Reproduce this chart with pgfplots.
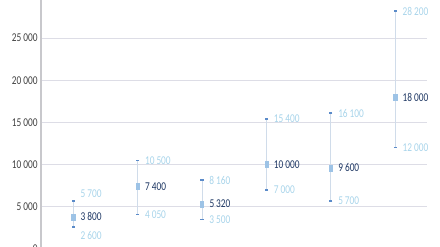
\documentclass[border=0pt]{standalone}
\usepackage{pgfplots}
\pgfplotsset{compat=1.18}
\usepackage{pgfplotstable}
\usepackage{fontspec}
\setmainfont{Carlito}[FakeStretch=0.78]
\definecolor{gridc}{HTML}{DDDDE6}
\definecolor{axisc}{HTML}{C8C8CC}
\definecolor{tickc}{HTML}{404040}
\definecolor{barc}{HTML}{D0DCEA}
\definecolor{capc}{HTML}{5B8BC9}
\definecolor{markc}{HTML}{9DC3E6}
\definecolor{meanc}{HTML}{1F3864}
\definecolor{hlc}{HTML}{A8D4EA}

\pgfplotstableread{
x mean hi lo hidy lody
0 3800 5700 2600 7 -8
1 7400 10500 4050 0 0
2 5320 8160 3500 0 0
3 10000 15400 7000 0 0
4 9600 16100 5700 0 0
5 18000 28200 12000 0 0
}\datatab

\begin{document}
\begin{tikzpicture}
\begin{axis}[
  at={(41bp,-2bp)}, anchor=south west,
  scale only axis, width=386.4bp, height=253.2bp,
  xmin=-0.5, xmax=5.5, ymin=0, ymax=30000,
  axis x line=none, axis y line*=left,
  y axis line style={draw=axisc, line width=1.6bp},
  ytick={0,5000,...,25000}, scaled y ticks=false,
  extra y ticks={30000}, extra y tick labels={},
  ymajorgrids, grid style={draw=gridc, line width=0.8bp},
  extra y tick style={grid=none},
  major tick length=0pt,
  yticklabel style={font=\fontsize{12}{12}\selectfont, color=tickc},
  /pgf/number format/.cd, 1000 sep={\,}, assume math mode=true,
  /pgfplots/.cd,
  clip=false,
]
% error lines
\addplot[draw=none, mark=none, forget plot,
  error bars/.cd, y dir=both, y explicit,
  error mark=none, error bar style={draw=barc, line width=0.9bp}]
  table[x=x, y=mean, y error plus expr=\thisrow{hi}-\thisrow{mean}, y error minus expr=\thisrow{mean}-\thisrow{lo}] {\datatab};
% high caps and labels
\addplot[only marks, mark=-, mark size=1.6bp, mark options={draw=capc, line width=1.3bp},
  visualization depends on={\thisrow{hidy} \as \hdy},
  nodes near coords, point meta=explicit,
  every node near coord/.append style={anchor=west, xshift=3.5bp, yshift=\hdy bp, font=\fontsize{12}{12}\selectfont, color=hlc, /pgf/number format/1000 sep={\,}}]
  table[x=x, y=hi, meta=hi] {\datatab};
% low caps and labels
\addplot[only marks, mark=-, mark size=1.6bp, mark options={draw=capc, line width=1.3bp},
  visualization depends on={\thisrow{lody} \as \ldy},
  nodes near coords, point meta=explicit,
  every node near coord/.append style={anchor=west, xshift=3.5bp, yshift=\ldy bp, font=\fontsize{12}{12}\selectfont, color=hlc, /pgf/number format/1000 sep={\,}}]
  table[x=x, y=lo, meta=lo] {\datatab};
% mean markers and labels
\addplot[only marks, mark=square*, mark size=3bp, mark options={xscale=0.55, fill=markc, draw=markc},
  nodes near coords, point meta=explicit,
  every node near coord/.append style={anchor=west, xshift=4bp, font=\fontsize{12}{12}\selectfont, color=meanc, /pgf/number format/1000 sep={\,}}]
  table[x=x, y=mean, meta=mean] {\datatab};
\end{axis}
\pgfresetboundingbox
\path[use as bounding box] (0,0) rectangle (440bp,247bp);
\end{tikzpicture}
\end{document}
